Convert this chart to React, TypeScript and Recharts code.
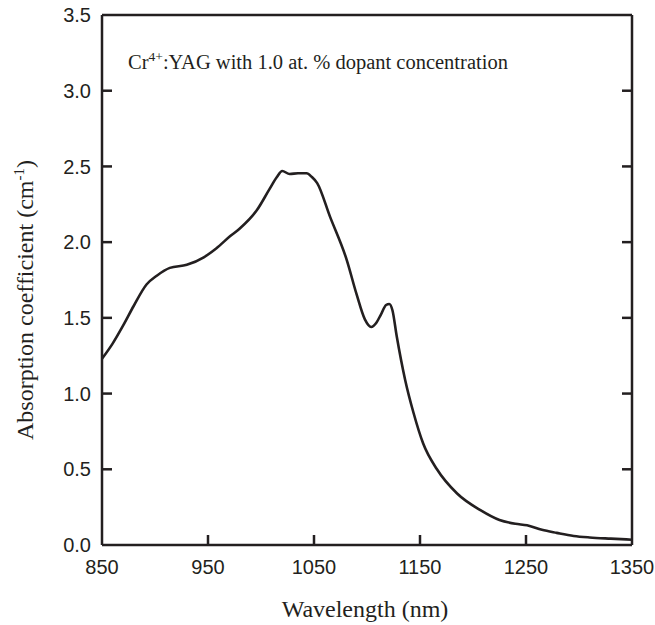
import React from 'react';
import { LineChart, Line, XAxis, YAxis, ReferenceLine } from 'recharts';

const wavelengths = [850, 860, 870, 880, 892, 902, 914, 930, 946, 958, 971, 980, 996, 1008, 1015, 1020, 1027, 1035, 1043, 1048, 1053, 1065, 1081, 1090, 1098, 1104, 1109, 1113, 1118, 1121, 1124, 1128, 1136, 1144, 1153, 1166, 1185, 1207, 1225, 1240, 1251, 1265, 1279, 1295, 1310, 1330, 1350];
const absorption = [1.23, 1.33, 1.45, 1.58, 1.72, 1.78, 1.83, 1.85, 1.90, 1.96, 2.04, 2.09, 2.21, 2.35, 2.43, 2.47, 2.45, 2.455, 2.455, 2.43, 2.39, 2.17, 1.88, 1.66, 1.49, 1.44, 1.47, 1.52, 1.585, 1.592, 1.55, 1.38, 1.09, 0.87, 0.67, 0.50, 0.34, 0.23, 0.165, 0.14, 0.13, 0.10, 0.08, 0.06, 0.05, 0.042, 0.035];
const xTicks = [850, 950, 1050, 1150, 1250, 1350];
const yTicks = [0, 0.5, 1.0, 1.5, 2.0, 2.5, 3.0, 3.5];
const xInnerTicks = [950, 1050, 1150, 1250];
const yInnerTicks = [0.5, 1.0, 1.5, 2.0, 2.5, 3.0];

const data = wavelengths.map((w, i) => ({ w, a: absorption[i] }));

const INK = '#231f20';
const SERIF = '"Liberation Serif", "Times New Roman", serif';
const SANS = '"Liberation Sans", Arial, sans-serif';
const TICK_LEN = 10;

// plot frame (from the chart margins and axis sizes below)
const CHART_W = 655;
const CHART_H = 625;
const LEFT_W = 102;
const RIGHT_W = 23;
const TOP_H = 15;
const BOTTOM_H = 80;
const PLOT_L = LEFT_W;
const PLOT_R = CHART_W - RIGHT_W;
const PLOT_B = CHART_H - BOTTOM_H;

const YLabel = () => (
  <text
    x={33}
    y={300}
    transform="rotate(-90, 33, 300)"
    textAnchor="middle"
    fontFamily={SERIF}
    fontSize={24}
    fill={INK}
  >
    Absorption coefficient (cm<tspan dy={-9} fontSize={15}>-1</tspan><tspan dy={9}>)</tspan>
  </text>
);

const XLabel = () => (
  <text x={365} y={617} textAnchor="middle" fontFamily={SERIF} fontSize={24} fill={INK}>
    Wavelength (nm)
  </text>
);

const Note = () => (
  <text x={128} y={69} fontFamily={SERIF} fontSize={20.5} fill={INK}>
    Cr<tspan dy={-8} fontSize={13.5}>4+</tspan><tspan dy={8}>:YAG with 1.0 at. % dopant concentration</tspan>
  </text>
);

const HTickShape = (p: any) => {
  const y = Number(p.y1);
  return (
    <g>
      <line x1={PLOT_L} x2={PLOT_L + TICK_LEN} y1={y} y2={y} stroke={INK} strokeWidth={2.5} />
      <line x1={PLOT_R - TICK_LEN} x2={PLOT_R} y1={y} y2={y} stroke={INK} strokeWidth={2.5} />
    </g>
  );
};

const VTickShape = (p: any) => {
  const x = Number(p.x1);
  return <line x1={x} x2={x} y1={PLOT_B - TICK_LEN} y2={PLOT_B} stroke={INK} strokeWidth={2.5} />;
};

export default function App() {
  return (
    <div style={{ position: 'fixed', left: 0, top: 0, width: CHART_W, height: CHART_H, overflow: 'hidden', background: '#fff' }}>
      <LineChart width={CHART_W} height={CHART_H} data={data} margin={{ top: 0, right: 0, bottom: 0, left: 0 }}>
        <XAxis
          xAxisId="bottom"
          dataKey="w"
          type="number"
          domain={[850, 1350]}
          ticks={xTicks}
          allowDataOverflow
          height={BOTTOM_H}
          tickSize={0}
          tickMargin={15}
          tickLine={false}
          interval={0}
          axisLine={{ stroke: INK, strokeWidth: 2.5 }}
          tick={{ fill: INK, fontFamily: SANS, fontSize: 20 }}
          label={{ content: () => <XLabel /> }}
        />
        <XAxis
          xAxisId="top"
          orientation="top"
          dataKey="w"
          type="number"
          domain={[850, 1350]}
          height={TOP_H}
          tick={false}
          tickLine={false}
          axisLine={{ stroke: INK, strokeWidth: 2.5 }}
          label={{ content: () => <Note /> }}
        />
        <YAxis
          yAxisId="left"
          type="number"
          domain={[0, 3.5]}
          ticks={yTicks}
          width={LEFT_W}
          tickSize={0}
          tickMargin={11}
          tickLine={false}
          interval={0}
          tickFormatter={(v: number) => v.toFixed(1)}
          axisLine={{ stroke: INK, strokeWidth: 2.5 }}
          tick={{ fill: INK, fontFamily: SANS, fontSize: 20 }}
          label={{ content: () => <YLabel /> }}
        />
        <YAxis
          yAxisId="right"
          orientation="right"
          type="number"
          domain={[0, 3.5]}
          ticks={yTicks}
          width={RIGHT_W}
          tick={false}
          tickLine={false}
          axisLine={{ stroke: INK, strokeWidth: 2.5 }}
        />
        {yInnerTicks.map((v) => (
          <ReferenceLine key={`ry-${v}`} xAxisId="bottom" yAxisId="left" y={v} shape={HTickShape} />
        ))}
        {xInnerTicks.map((v) => (
          <ReferenceLine key={`rx-${v}`} xAxisId="bottom" yAxisId="left" x={v} shape={VTickShape} />
        ))}
        <Line
          xAxisId="bottom"
          yAxisId="left"
          type="monotone"
          dataKey="a"
          stroke={INK}
          strokeWidth={2.6}
          dot={false}
          isAnimationActive={false}
        />
      </LineChart>
    </div>
  );
}
